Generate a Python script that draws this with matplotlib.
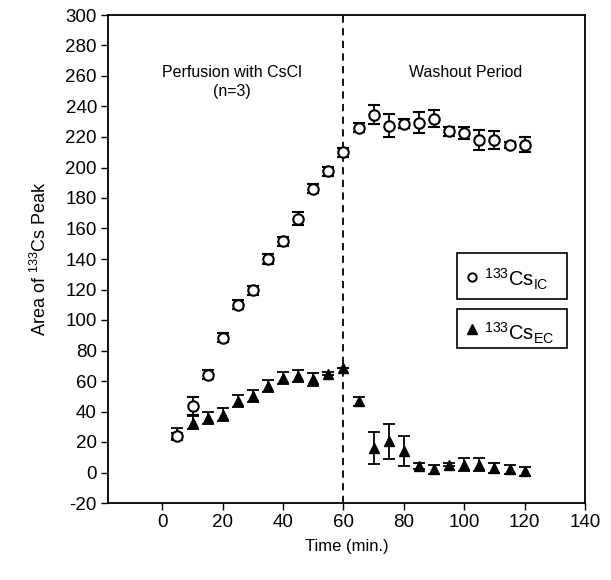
import matplotlib
matplotlib.use("Agg")
import matplotlib.pyplot as plt
from matplotlib.patches import Rectangle

plt.rcParams['font.family'] = ['Liberation Sans', 'DejaVu Sans']
plt.rcParams['mathtext.fontset'] = 'custom'
plt.rcParams['mathtext.rm'] = 'Liberation Sans'
plt.rcParams['mathtext.it'] = 'Liberation Sans'
plt.rcParams['axes.unicode_minus'] = False

time = [5, 10, 15, 20, 25, 30, 35, 40, 45, 50, 55, 60,
        65, 70, 75, 80, 85, 90, 95, 100, 105, 110, 115, 120]
ic = [24, 43.5, 64, 88.5, 110, 119.5, 140, 151.7, 166.5, 186, 197.6, 210,
      226, 234.7, 227.5, 228.6, 229.3, 231.9, 223.8, 222.7, 218.3, 218, 215, 215]
ic_err = [2, 6, 3, 3, 3, 3, 3, 3, 4, 3, 3, 3,
          3, 6, 7.3, 3, 7, 5.5, 3, 4, 6.5, 6, 2, 5]
ec = [25, 32.6, 35.8, 38, 46.8, 50, 56.6, 62, 63.2, 61, 64.7, 68.6,
      46.8, 16.2, 20.5, 14, 4.2, 2, 5.2, 5.2, 5.2, 3, 2, 0.9]
ec_err = [4, 4.4, 4, 4, 4, 4, 4, 4, 4, 4, 1, 0,
          3, 10.6, 11.6, 10, 2, 3, 1, 4, 4, 3, 3, 3]

xticks = [0, 20, 40, 60, 80, 100, 120, 140]
yticks = list(range(-20, 301, 20))

W, H = 611, 580
L, R, T, B = 108, 585, 15, 503
fig = plt.figure(figsize=(W / 100, H / 100), dpi=100)
ax = fig.add_axes([L / W, 1 - B / H, (R - L) / W, (B - T) / H])

ax.errorbar(time, ec, yerr=ec_err, fmt='^', color='black', ms=7,
            capsize=4, elinewidth=1.3, capthick=1.3, zorder=3)
ax.errorbar(time, ic, yerr=ic_err, fmt='o', mfc='white', mec='black', mew=1.5,
            ms=7.5, ecolor='black', capsize=4, elinewidth=1.3, capthick=1.3, zorder=4)

ax.axvline(60, color='black', ls=(0, (4, 3)), lw=1.3, zorder=2)

ax.set_xlim(-18, 140)
ax.set_ylim(-20, 300)
ax.set_xticks(xticks)
ax.set_yticks(yticks)
ax.tick_params(direction='out', length=5, width=1, labelsize=13.5, colors='black', pad=3)
ax.tick_params(top=False, right=False)
for s in ax.spines.values():
    s.set_linewidth(1.3)

ax.set_xlabel('Time (min.)', fontsize=12, labelpad=6)
ax.set_ylabel('Area of $\\mathregular{^{133}}$Cs Peak', fontsize=13, labelpad=11)

ax.text(23, 267, 'Perfusion with CsCl\n(n=3)', ha='center', va='top',
        fontsize=11.5, linespacing=1.3)
ax.text(100.3, 267, 'Washout Period', ha='center', va='top', fontsize=11.5)


def px2ax(px, py):
    return (px - L) / (R - L), (B - py) / (B - T)


def legend_box(top, bottom, marker_kw, label, baseline):
    x0, y1 = px2ax(456.7, top)
    x1, y0 = px2ax(566.7, bottom)
    ax.add_patch(Rectangle((x0, y0), x1 - x0, y1 - y0, transform=ax.transAxes,
                           fill=True, facecolor='white', edgecolor='black',
                           lw=1.2, zorder=5))
    mx, my = px2ax(471.7, (top + bottom) / 2 + 0.5)
    ax.plot([mx], [my], transform=ax.transAxes, ls='none', zorder=6,
            clip_on=False, **marker_kw)
    tx, ty = px2ax(484, baseline)
    ax.text(tx, ty, label, transform=ax.transAxes, ha='left', va='baseline',
            fontsize=14.5, zorder=6)


legend_box(253.3, 299.3, dict(marker='o', mfc='white', mec='black', mew=1.4, ms=6),
           '$\\mathregular{^{133}Cs_{IC}}$', 287)
legend_box(309, 348.3, dict(marker='^', color='black', ms=7),
           '$\\mathregular{^{133}Cs_{EC}}$', 340)

fig.savefig('out.png', dpi=100)
